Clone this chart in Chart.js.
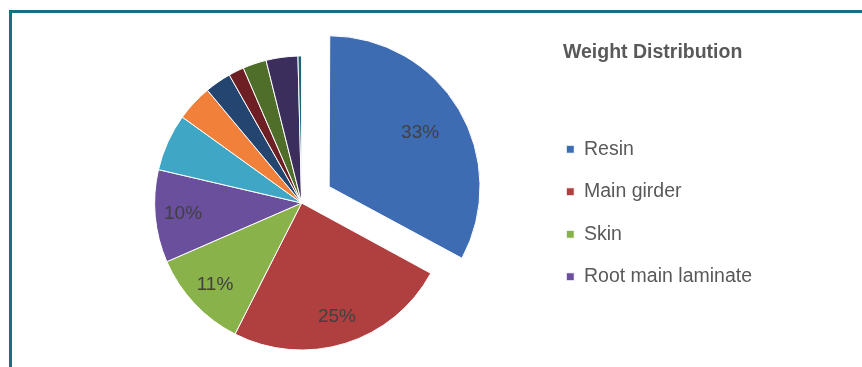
<!DOCTYPE html>
<html>
<head>
<meta charset="utf-8">
<script src="https://cdn.jsdelivr.net/npm/chart.js@4"></script>
<style>
    html, body { margin: 0; padding: 0; background: #fff; }
    #frame {
        position: absolute;
        left: 9px;
        top: 10px;
        width: 900px;
        height: 400px;
        border-top: 3px solid #17707f;
        border-left: 3px solid #17707f;
    }
    #chart { position: absolute; left: 0; top: 0; }
</style>
</head>
<body>
<div id="frame"></div>
<canvas id="chart" width="862" height="367"></canvas>
<script>
const components = [
    "Resin",
    "Main girder",
    "Skin",
    "Root main laminate",
    "Shear web",
    "Core",
    "Adhesive",
    "Root sub laminate",
    "Trailing edge",
    "Leading edge",
    "Lightning protection",
];
const weightShares = [33, 24.6, 11, 10.2, 6.3, 4, 2.9, 1.7, 2.6, 3.5, 0.4];
const sliceColors = [
    "#3e6cb3", "#b0403f", "#8ab24b", "#6a4f9c", "#3fa7c5", "#f0803a",
    "#24456f", "#6e1f24", "#4e6e2a", "#3b2d5c", "#1f6672",
];
// Chart.js draws arcs displaced by offset / 4 pixels
const sliceOffsets = [128, 0, 0, 0, 0, 0, 0, 0, 0, 0, 0];
const legendCount = 4;

const fontFamily = "'Liberation Sans', Arial, sans-serif";

const percentLabels = {
    id: "percentLabels",
    afterDatasetsDraw(chart) {
        const ctx = chart.ctx;
        const meta = chart.getDatasetMeta(0);
        const values = chart.data.datasets[0].data;
        const total = values.reduce((a, b) => a + b, 0);

        ctx.save();
        ctx.font = "19px " + fontFamily;
        ctx.fillStyle = "#404040";
        ctx.textAlign = "center";
        ctx.textBaseline = "middle";
        meta.data.forEach((arc, i) => {
            const share = values[i] / total;
            if (share < 0.095) {
                return;
            }
            const mid = (arc.startAngle + arc.endAngle) / 2;
            const shift = (arc.options.offset || 0) / 4;
            const r = arc.outerRadius * (shift ? 0.72 : 0.81) + shift;
            ctx.fillText(
                Math.round(share * 100) + "%",
                arc.x + Math.cos(mid) * r,
                arc.y + Math.sin(mid) * r
            );
        });
        ctx.restore();
    },
};

new Chart(document.getElementById("chart"), {
    type: "pie",
    data: {
        labels: components,
        datasets: [
            {
                data: weightShares,
                backgroundColor: sliceColors,
                borderColor: "#ffffff",
                borderWidth: 1,
                offset: sliceOffsets,
                hoverOffset: 0,
            },
        ],
    },
    options: {
        responsive: false,
        animation: false,
        radius: 147,
        layout: {
            padding: { left: 60, right: 100, top: 39, bottom: 0 },
        },
        plugins: {
            tooltip: { enabled: false },
            legend: {
                position: "right",
                align: "start",
                labels: {
                    boxWidth: 8,
                    boxHeight: 8,
                    padding: 23,
                    color: "#595959",
                    font: { family: fontFamily, size: 19.5 },
                    filter: (item) => item.index < legendCount,
                },
                title: {
                    display: true,
                    text: "Weight Distribution",
                    position: "center",
                    color: "#595959",
                    font: { family: fontFamily, size: 19.5, weight: "bold" },
                    padding: { top: 3.5, bottom: 50.6 },
                },
            },
        },
    },
    plugins: [percentLabels],
});
</script>
</body>
</html>
